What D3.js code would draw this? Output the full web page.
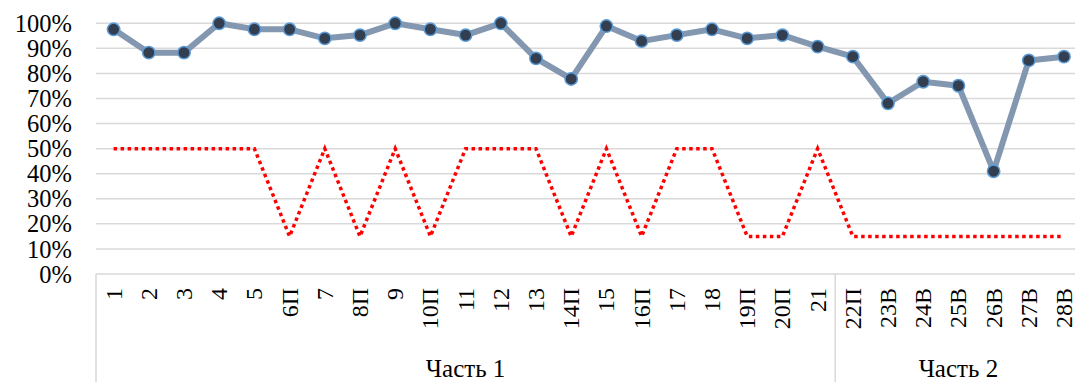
<!DOCTYPE html>
<html>
<head>
<meta charset="utf-8">
<script src="https://cdn.jsdelivr.net/npm/d3@7"></script>
<style>
  html, body { margin: 0; padding: 0; background: #fff; }
  svg { display: block; }
  svg text { font-family: "Liberation Serif", "Times New Roman", Times, "DejaVu Serif", serif !important; fill: #000; }
</style>
</head>
<body>
<svg id="chart" width="1075" height="382"></svg>
<script>
// ---- data ----
const categories = ["1","2","3","4","5","6П","7","8П","9","10П","11","12","13","14П","15","16П","17","18","19П","20П","21","22П","23В","24В","25В","26В","27В","28В"];
const groupNames = ["Часть 1", "Часть 2"];
const groupSizes = [21, 7];
const successRate = [97.6, 88.3, 88.3, 100, 97.6, 97.6, 94.0, 95.3, 100, 97.6, 95.3, 100, 86.0, 77.8, 98.9, 92.9, 95.3, 97.6, 94.0, 95.3, 90.7, 86.7, 68.1, 76.7, 75.1, 41.0, 85.2, 86.7];
const thresholdRate = [50, 50, 50, 50, 50, 15, 50, 15, 50, 15, 50, 50, 50, 15, 50, 15, 50, 50, 15, 15, 50, 15, 15, 15, 15, 15, 15, 15];
const yTicks = [0, 10, 20, 30, 40, 50, 60, 70, 80, 90, 100];

// ---- layout ----
const FONT = "'Liberation Serif', 'Times New Roman', Times, 'DejaVu Serif', serif";
const svg = d3.select("#chart");
const plotLeft = 96, step = 35.2;
const plotRight = plotLeft + step * categories.length;
const yTop = 23.3, yBottom = 274;

const x = d3.scaleBand().domain(categories).range([plotLeft, plotRight]).padding(0);
const y = d3.scaleLinear().domain([0, 100]).range([yBottom, yTop]);
const cx = d => x(d) + x.bandwidth() / 2;

// gridlines
svg.append("g").selectAll("line").data(yTicks).join("line")
  .attr("x1", plotLeft).attr("x2", 1075)
  .attr("y1", d => y(d)).attr("y2", d => y(d))
  .attr("stroke", "#d9d9d9").attr("stroke-width", 1.5);

// y axis labels
const yAxis = d3.axisLeft(y).tickValues(yTicks).tickFormat(d => d + "%").tickSize(0).tickPadding(0);
const yG = svg.append("g").attr("transform", "translate(72,0)").call(yAxis);
yG.attr("font-family", FONT);
yG.select(".domain").remove();
yG.selectAll("text")
  .attr("font-family", FONT).attr("font-size", 24.5)
  .attr("fill", "#000").attr("dy", "0.33em").attr("x", 0);

// category axis frame lines
const groupStarts = [];
let acc = 0;
groupSizes.forEach(s => { groupStarts.push(acc); acc += s; });
svg.append("g").selectAll("line").data(groupStarts).join("line")
  .attr("x1", d => x(categories[d])).attr("x2", d => x(categories[d]))
  .attr("y1", yBottom).attr("y2", 382)
  .attr("stroke", "#d9d9d9").attr("stroke-width", 1.5);

// category tick labels (rotated)
svg.append("g").attr("font-family", FONT).selectAll("text").data(categories).join("text")
  .attr("transform", d => `translate(${cx(d)},288) rotate(-90)`)
  .attr("text-anchor", "end")
  .attr("dy", "0.33em")
  .attr("font-size", 24)
  .text(d => d);

// group labels
svg.append("g").attr("font-family", FONT).selectAll("text").data(groupNames).join("text")
  .attr("x", (d, i) => {
    const a = x(categories[groupStarts[i]]);
    const b = x(categories[groupStarts[i] + groupSizes[i] - 1]) + x.bandwidth();
    return (a + b) / 2;
  })
  .attr("y", 377)
  .attr("text-anchor", "middle")
  .attr("font-size", 25)
  .text(d => d);

// threshold dotted line
const line = d3.line().x(d => cx(d.c)).y(d => y(d.v));
svg.append("path")
  .datum(categories.map((c, i) => ({ c, v: thresholdRate[i] })))
  .attr("d", line)
  .attr("fill", "none")
  .attr("stroke", "#ff0000")
  .attr("stroke-width", 3.5)
  .attr("stroke-dasharray", "3.5,3.5");

// success line
const pts = categories.map((c, i) => ({ c, v: successRate[i] }));
svg.append("path")
  .datum(pts)
  .attr("d", line)
  .attr("fill", "none")
  .attr("stroke", "#8497b0")
  .attr("stroke-width", 6)
  .attr("stroke-linejoin", "round");

svg.append("g").selectAll("circle").data(pts).join("circle")
  .attr("cx", d => cx(d.c)).attr("cy", d => y(d.v))
  .attr("r", 6.2)
  .attr("fill", "#333f50")
  .attr("stroke", "#5b9bd5")
  .attr("stroke-width", 1.5);
</script>
</body>
</html>
